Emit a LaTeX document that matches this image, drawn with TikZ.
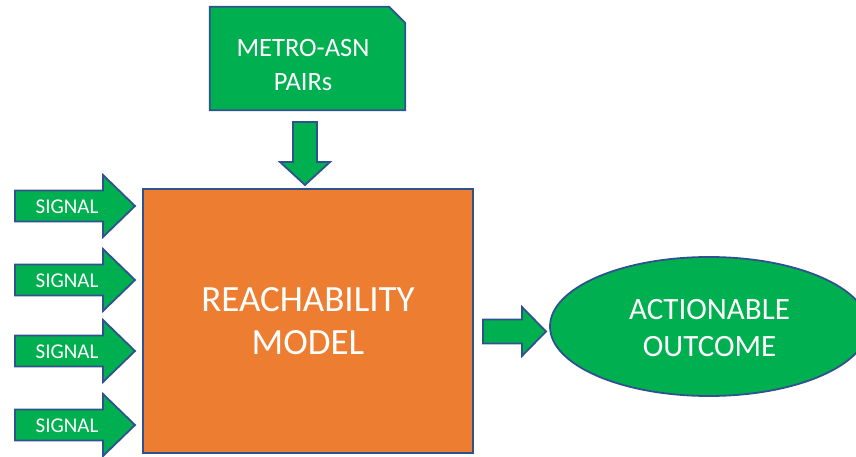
\documentclass[tikz,border=0pt]{standalone}
\usepackage{fontspec}
\setmainfont{Carlito}
\usetikzlibrary{shapes.geometric}
\definecolor{boxgreen}{HTML}{00B050}
\definecolor{boxorange}{HTML}{ED7D31}
\definecolor{edgeblue}{HTML}{2F528F}
\tikzset{
  outlined/.style={draw=edgeblue, line width=1.8pt, line join=miter},
  greenfill/.style={outlined, fill=boxgreen},
  whitetext/.style={text=white, align=center, inner sep=0pt},
}
\begin{document}
\begin{tikzpicture}[x=1pt,y=-1pt]
\useasboundingbox (0,0) rectangle (856,457);
\clip (0,0) rectangle (856,457);

% data source: document with a snipped upper right corner
\node[minimum width=195pt, minimum height=103pt, inner sep=0pt] (pairs) at (307.5,58.5) {};
\draw[greenfill] (pairs.south west) -- (pairs.north west)
  -- ([xshift=-16pt]pairs.north east) -- ([yshift=-16pt]pairs.north east)
  -- (pairs.south east) -- cycle;
\node[whitetext, font=\fontsize{26.5}{34}\selectfont] (pairstext) at (303,65) {METRO-ASN\\PAIRs};

% central model
\node[outlined, fill=boxorange, minimum width=330pt, minimum height=264pt,
      text=white, align=center,
      font=\fontsize{37}{43}\selectfont] (model) at (308,321) {REACHABILITY\\MODEL};

% result
\node[greenfill, ellipse, minimum width=318pt, minimum height=139pt, inner sep=0pt] (outcome) at (709,326.5) {};
\node[whitetext, font=\fontsize{31}{37}\selectfont] (outcometext) at (709.5,328.5) {ACTIONABLE\\OUTCOME};

% block arrow from the data source down into the model
\coordinate (feedtop) at (305,122);
\coordinate (feedtip) at (305,185);
\draw[greenfill] (feedtop) ++(-12,0) -- ++(24,0) -- ++(0,40) -- ++(13,0)
  -- (feedtip) -- ++(-25,-23) -- ++(13,0) -- cycle;

% signal arrows into the model
\foreach \c/\n in {206/1, 280/2, 351/3, 425/4}{
  \coordinate (tail\n) at (15,\c);
  \coordinate (tip\n) at (135,\c);
  \draw[greenfill] (tail\n) ++(0,-15.5) -- ++(88,0) -- ++(0,-15.5)
    -- (tip\n) -- ++(-32,31) -- ++(0,-15.5) -- ++(-88,0) -- cycle;
  \node[whitetext, font=\fontsize{21}{25}\selectfont] (sig\n) at ([xshift=52pt,yshift=-1pt]tail\n) {SIGNAL};
}

% block arrow from the model to the result
\coordinate (outtail) at (483,331.5);
\coordinate (outtip) at (546,331.5);
\draw[greenfill] (outtail) ++(0,-12) -- ++(39,0) -- ++(0,-12.5)
  -- (outtip) -- ++(-24,24.5) -- ++(0,-12.5) -- ++(-39,0) -- cycle;
\end{tikzpicture}
\end{document}
